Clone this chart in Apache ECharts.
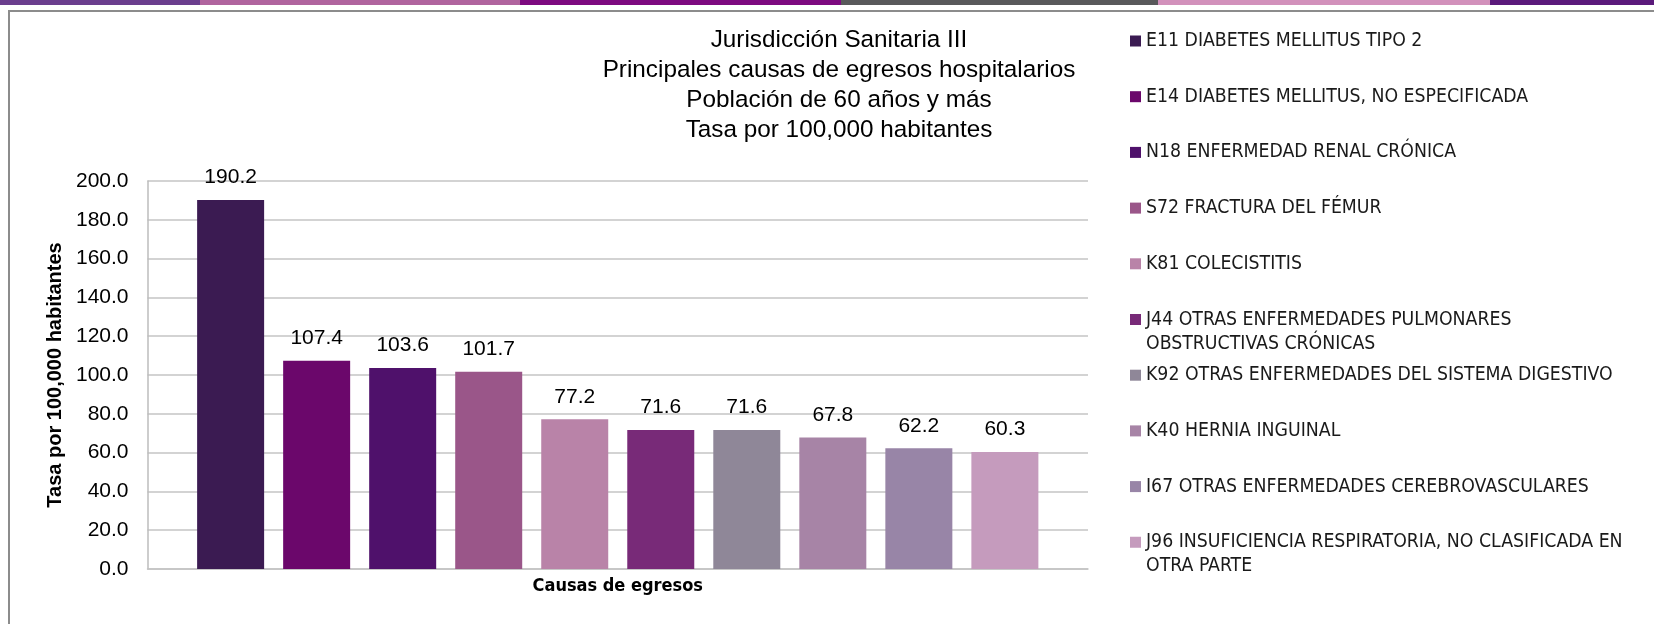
<!DOCTYPE html>
<html>
<head>
<meta charset="utf-8">
<script src="https://cdn.jsdelivr.net/npm/echarts@6/dist/echarts.min.js"></script>
<style>
  html, body { margin: 0; padding: 0; background: #fff; }
  #egresos { width: 1654px; height: 624px; }
</style>
</head>
<body>
<div id="egresos"></div>
<script>
var causas = [
    'E11 DIABETES MELLITUS TIPO 2',
    'E14 DIABETES MELLITUS, NO ESPECIFICADA',
    'N18 ENFERMEDAD RENAL CRÓNICA',
    'S72 FRACTURA DEL FÉMUR',
    'K81 COLECISTITIS',
    'J44 OTRAS ENFERMEDADES PULMONARES\nOBSTRUCTIVAS CRÓNICAS',
    'K92 OTRAS ENFERMEDADES DEL SISTEMA DIGESTIVO',
    'K40 HERNIA INGUINAL',
    'I67 OTRAS ENFERMEDADES CEREBROVASCULARES',
    'J96 INSUFICIENCIA RESPIRATORIA, NO CLASIFICADA EN\nOTRA PARTE'
];
var tasas = [190.2, 107.4, 103.6, 101.7, 77.2, 71.6, 71.6, 67.8, 62.2, 60.3];
var colores = ['#3b1b52', '#6b076b', '#4f116b', '#9a5689', '#b983a8',
               '#782a78', '#8f8798', '#a784a6', '#9885a7', '#c59bbd'];
var ticksY = { min: 0, max: 200, interval: 20 };

var narrow = "'DejaVu Sans Condensed', 'Liberation Sans', sans-serif";
var sans = "'Liberation Sans', Arial, sans-serif";

var myChart = echarts.init(document.getElementById('egresos'));

// one bar series per cause, all sharing a single category
var series = causas.map(function (nombre, i) {
    return {
        type: 'bar',
        name: nombre,
        data: [tasas[i]],
        barWidth: 67,
        barGap: '28.4%',
        itemStyle: { color: colores[i] },
        label: {
            show: true,
            position: 'top',
            distance: 12,
            fontFamily: sans,
            fontSize: 21,
            color: '#000',
            formatter: function (p) { return p.value.toFixed(1); }
        }
    };
});

// Excel-like legend: every entry gets the same slot height.
// Two-line entries use a taller icon box whose square sits at the top,
// so the marker lines up with the first line of text.
var iconoAlto = 'path://M0,0L10,0L10,10L0,10Z M0,31.8L0.01,31.8';
var legends = causas.map(function (nombre, i) {
    var dosLineas = nombre.indexOf('\n') >= 0;
    var centro = 41 + 55.7 * i;
    return {
        orient: 'vertical',
        left: 1130,
        top: centro - 12,
        padding: 0,
        selectedMode: false,
        data: [nombre],
        icon: dosLineas ? iconoAlto : 'rect',
        itemWidth: 11,
        itemHeight: dosLineas ? 35 : 11,
        textStyle: { fontFamily: narrow, fontSize: 19.3, lineHeight: 24, color: '#1a1a1a' }
    };
});

var option = {
    animation: false,
    title: {
        text: 'Jurisdicción Sanitaria III\nPrincipales causas de egresos hospitalarios\nPoblación de 60 años y más\nTasa por 100,000 habitantes',
        left: 839,
        top: 25,
        padding: 0,
        textAlign: 'center',
        textStyle: { fontFamily: sans, fontSize: 24.3, fontWeight: 'normal', lineHeight: 30, color: '#000' }
    },
    legend: legends,
    grid: { left: 147.5, right: 566, top: 181, bottom: 55 },
    xAxis: {
        type: 'category',
        data: [''],
        name: 'Causas de egresos',
        nameLocation: 'middle',
        nameGap: 8,
        nameTextStyle: { fontFamily: narrow, fontSize: 18, fontWeight: 'bold', color: '#000' },
        axisLine: { lineStyle: { color: '#c4c4c4', width: 1.5 } },
        axisTick: { show: false },
        axisLabel: { show: false }
    },
    yAxis: {
        type: 'value',
        min: ticksY.min,
        max: ticksY.max,
        interval: ticksY.interval,
        name: 'Tasa por 100,000 habitantes',
        nameLocation: 'middle',
        nameGap: 82,
        nameTextStyle: { fontFamily: sans, fontSize: 20, fontWeight: 'bold', color: '#000' },
        axisLine: { show: true, lineStyle: { color: '#bdbdbd', width: 1.5 } },
        axisTick: { show: false },
        axisLabel: {
            margin: 19,
            fontFamily: sans,
            fontSize: 21,
            color: '#000',
            formatter: function (v) { return v.toFixed(1); }
        },
        splitLine: { lineStyle: { color: '#c4c4c4', width: 1.5 } }
    },
    graphic: [
        // coloured strip along the top edge of the page
        { type: 'rect', left: 0, top: 0, shape: { width: 200, height: 5 }, style: { fill: '#6b3e8e' } },
        { type: 'rect', left: 200, top: 0, shape: { width: 320, height: 5 }, style: { fill: '#b0649e' } },
        { type: 'rect', left: 520, top: 0, shape: { width: 321, height: 5 }, style: { fill: '#7d0a80' } },
        { type: 'rect', left: 841, top: 0, shape: { width: 317, height: 5 }, style: { fill: '#59595b' } },
        { type: 'rect', left: 1158, top: 0, shape: { width: 332, height: 5 }, style: { fill: '#d291bb' } },
        { type: 'rect', left: 1490, top: 0, shape: { width: 164, height: 5 }, style: { fill: '#5b1a7b' } },
        // chart frame
        { type: 'line', shape: { x1: 8, y1: 11, x2: 1654, y2: 11 }, style: { stroke: '#8c8c8c', lineWidth: 2 } },
        { type: 'line', shape: { x1: 9, y1: 10, x2: 9, y2: 624 }, style: { stroke: '#8c8c8c', lineWidth: 2 } }
    ],
    series: series
};

myChart.setOption(option);
</script>
</body>
</html>
